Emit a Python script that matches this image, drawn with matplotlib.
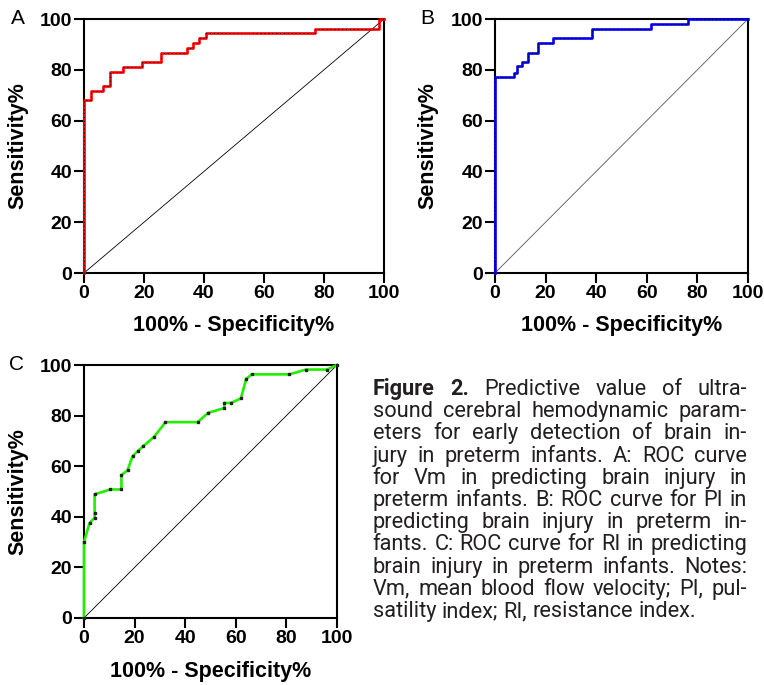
import matplotlib
matplotlib.use("Agg")
import matplotlib.pyplot as plt

plt.rcParams['font.family'] = ['Liberation Sans', 'DejaVu Sans']

# ROC points (100% - specificity, sensitivity)
vm_fpr = [0, 0, 2.2, 6.4, 8.7, 12.9, 19.4, 25.7, 34.2, 36.2, 38.4, 40.6, 77.0, 98.4, 100]
vm_tpr = [0, 68.0, 71.7, 73.6, 79.3, 81.2, 83.0, 86.8, 88.7, 90.5, 92.4, 94.3, 96.2, 100, 100]

pi_fpr = [0, 0, 6.6, 7.6, 8.6, 10.5, 12.9, 12.9, 17.1, 17.1, 21.3, 23.0, 36.2, 38.2, 61.8, 61.8,
          72.6, 76.3, 100]
pi_tpr = [0, 77.1, 77.1, 78.7, 81.3, 82.9, 85.0, 86.8, 88.8, 90.5, 90.5, 92.4, 92.4, 96.1, 96.1, 98.0,
          98.0, 100, 100]

ri_fpr = [0, 0, 2.2, 4.2, 4.2, 4.2, 10.4, 14.8, 14.8, 17.2, 19.2, 21.4, 23.4, 27.7, 32.2, 44.9,
          49.1, 55.5, 55.5, 58.1, 62.0, 64.1, 66.3, 81.2, 87.7, 96.0, 100]
ri_tpr = [0, 30.1, 37.6, 39.6, 41.6, 48.9, 50.8, 50.8, 56.5, 58.4, 64.0, 66.1, 67.9, 71.6, 77.4, 77.4,
          81.1, 83.0, 85.0, 85.0, 86.8, 94.5, 96.3, 96.3, 98.2, 98.2, 100]

ticks = [0, 20, 40, 60, 80, 100]

caption_lines = [
    "Figure 2. Predictive value of ultra-",
    "sound cerebral hemodynamic param-",
    "eters for early detection of brain in-",
    "jury in preterm infants. A: ROC curve",
    "for Vm in predicting brain injury in",
    "preterm infants. B: ROC curve for PI in",
    "predicting brain injury in preterm in-",
    "fants. C: ROC curve for RI in predicting",
    "brain injury in preterm infants. Notes:",
    "Vm, mean blood flow velocity; PI, pul-",
    "satility index; RI, resistance index.",
]

W, H = 764, 685
fig = plt.figure(figsize=(W / 100, H / 100), dpi=100)


def px_axes(left, top, right, bottom):
    return fig.add_axes([left / W, 1 - bottom / H, (right - left) / W, (bottom - top) / H])


def roc_panel(ax, box, fpr, tpr, color, steps, letter, letter_x, ylab_x, xlab_y,
              diag_color='black'):
    left, top, right, bottom = box
    ax.plot([0, 100], [0, 100], color=diag_color, lw=0.6, zorder=2)
    ds = 'steps-post' if steps else 'default'
    ax.plot(fpr, tpr, color=color, lw=1.9, drawstyle=ds, clip_on=False, zorder=3)
    if steps:
        ax.plot(fpr, tpr, color='black', lw=0.7, ls=(0, (1, 3)), drawstyle=ds,
                clip_on=False, zorder=4)
    else:
        ax.plot(fpr, tpr, ls='none', marker='s', ms=1.6, color='#222222',
                clip_on=False, zorder=4)
    ax.set_xlim(0, 100)
    ax.set_ylim(0, 100)
    ax.set_xticks(ticks)
    ax.set_yticks(ticks)
    for s in ax.spines.values():
        s.set_linewidth(1.5)
    ax.tick_params(direction='out', length=7, width=1.5, pad=1.5, labelsize=14)
    for lab in ax.get_xticklabels() + ax.get_yticklabels():
        lab.set_fontweight('bold')
    ax.set_xlabel('100% - Specificity%', fontsize=15.5, fontweight='bold')
    ax.set_ylabel('Sensitivity%', fontsize=15.5, fontweight='bold')
    ax.xaxis.set_label_coords(0.5, (bottom - xlab_y) / (bottom - top))
    ax.yaxis.set_label_coords((ylab_x - left) / (right - left), 0.5)
    ax.xaxis.label.set_va('center')
    ax.yaxis.label.set_va('center')
    fig.text(letter_x / W, 1 - top / H, letter, fontsize=15, ha='center', va='center')


boxA = (84, 19, 384, 273)
boxB = (495, 19, 748, 273)
boxC = (84, 365, 337, 618)
axA = px_axes(*boxA)
axB = px_axes(*boxB)
axC = px_axes(*boxC)

roc_panel(axA, boxA, vm_fpr, vm_tpr, '#ff0000', True, 'A', 18, 18, 325)
roc_panel(axB, boxB, pi_fpr, pi_tpr, '#0000ff', True, 'B', 427, 428, 325,
          diag_color='#555555')
roc_panel(axC, boxC, ri_fpr, ri_tpr, '#22ee00', False, 'C', 17, 18, 672)

# justified caption
fig.canvas.draw()
r = fig.canvas.get_renderer()
x_left, x_right = 372.5, 747.0
base0, dy = 395.0, 22.2
cap_font = ['Roboto', 'DejaVu Sans']


def make_line(i, line, fs):
    words = line.split(' ')
    texts = []
    for j, w in enumerate(words):
        bold = (i == 0 and j < 2)
        texts.append(fig.text(0, 1 - (base0 + i * dy) / H, w, fontsize=fs, family=cap_font,
                              fontweight='bold' if bold else 'normal',
                              color='#231f20', va='baseline', ha='left'))
    widths = [t.get_window_extent(r).width for t in texts]
    return texts, widths


# pick the font size so the tightest line just fills the column
fs0 = 14.0
natural = []
for i, line in enumerate(caption_lines[:-1]):
    texts, widths = make_line(i, line, fs0)
    natural.append(sum(widths) + (len(widths) - 1) * fs0 * 100 / 72 * 0.25)
    for t in texts:
        t.remove()
fs = fs0 * (x_right - x_left) / max(natural) * 0.99

for i, line in enumerate(caption_lines):
    texts, widths = make_line(i, line, fs)
    if i == len(caption_lines) - 1:
        gap = fs * 100 / 72 * 0.25
    else:
        gap = (x_right - x_left - sum(widths)) / (len(widths) - 1)
    x = x_left
    for t, w in zip(texts, widths):
        t.set_x(x / W)
        x += w + gap

fig.savefig('out.png', dpi=100)
